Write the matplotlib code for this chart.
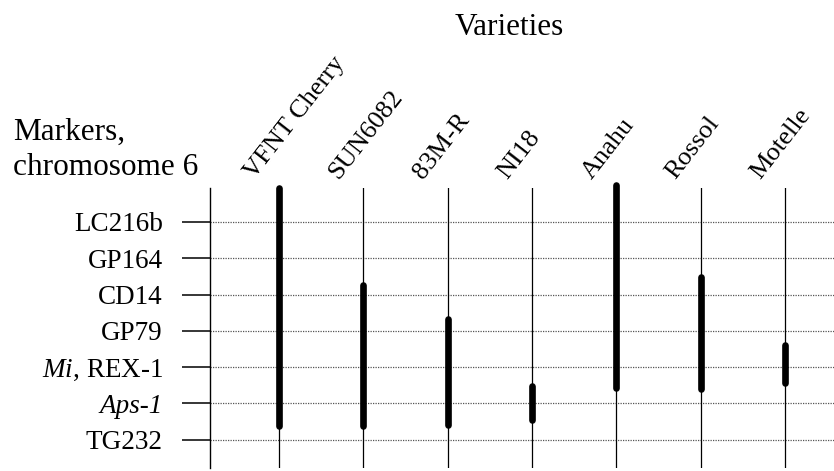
import matplotlib
matplotlib.use("Agg")
import matplotlib.pyplot as plt

# ---- data ----
varieties = ["VFNT Cherry", "SUN6082", "83M-R", "NI18", "Anahu", "Rossol", "Motelle"]
markers = ["LC216b", "GP164", "CD14", "GP79", r"$\mathit{Mi}$, REX-1", "Aps-1", "TG232"]
# extent of introgressed segment, in marker-index units (0 = LC216b ... 6 = TG232)
seg_top = [-1.02, 1.65, 2.59, 4.44, -1.10, 1.43, 3.31]
seg_bottom = [5.70, 5.70, 5.67, 5.54, 4.66, 4.68, 4.52]

plt.rcParams["font.family"] = ["Liberation Serif", "DejaVu Serif"]
plt.rcParams["mathtext.fontset"] = "custom"
plt.rcParams["mathtext.rm"] = "Liberation Serif"
plt.rcParams["mathtext.it"] = "Liberation Serif:italic"

W, H = 834, 471
fig = plt.figure(figsize=(W / 100, H / 100), dpi=100)
ax = fig.add_axes([210 / W, 3 / H, 1 - 210 / W, 280 / H])

ax.set_xlim(-0.818, 6.581)
ax.set_ylim(6.78, -0.937)

# horizontal dotted marker lines
for j in range(len(markers)):
    ax.axhline(j, color="#555555", lw=0.9, ls=(0, (1, 1)), zorder=1)

# thin vertical lines for varieties and thick segments
cap = 0.08
for i, v in enumerate(varieties):
    ax.axvline(i, color="black", lw=0.9, zorder=2)
    ax.plot([i, i], [seg_top[i] + cap, seg_bottom[i] - cap], color="black",
            lw=4.8, solid_capstyle="round", zorder=3, clip_on=False)
    ax.annotate(v, xy=(i, 1), xycoords=("data", "axes fraction"),
                xytext=(-25, 8), textcoords="offset pixels",
                rotation=52, rotation_mode="anchor", ha="left", va="baseline",
                fontsize=19, annotation_clip=False)

for s in ["top", "right", "bottom"]:
    ax.spines[s].set_visible(False)
ax.spines["left"].set_linewidth(1.0)
ax.set_xticks([])
ax.set_yticks(range(len(markers)))
ax.set_yticklabels(markers, fontsize=19.5)
ax.get_yticklabels()[5].set_fontstyle("italic")
ax.tick_params(axis="y", length=20.2, width=1.1, pad=13.7, direction="out")

fig.text(13 / W, 1 - 140 / H, "Markers,", fontsize=22.5, ha="left", va="baseline")
fig.text(13 / W, 1 - 175 / H, "chromosome 6", fontsize=22.5, ha="left", va="baseline")
fig.text(509 / W, 1 - 35 / H, "Varieties", fontsize=22.5, ha="center", va="baseline")

fig.savefig("out.png", dpi=100)
